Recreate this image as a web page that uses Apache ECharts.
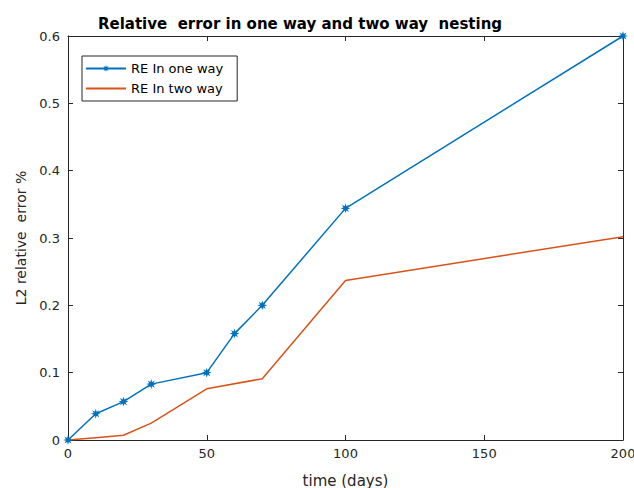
<!DOCTYPE html>
<html>
<head>
<meta charset="utf-8">
<script src="https://cdn.jsdelivr.net/npm/echarts@6/dist/echarts.min.js"></script>
<style>
  html, body { margin: 0; padding: 0; background: #fff; }
  #chart { width: 634px; height: 488px; }
</style>
</head>
<body>
<div id="chart"></div>
<script>
// values
const oneWayDays = [0, 10, 20, 30, 50, 60, 70, 100, 200]
const oneWayErr = [0, 0.039, 0.057, 0.083, 0.1, 0.158, 0.2, 0.344, 0.6]
const twoWayDays = [0, 10, 20, 30, 50, 70, 100, 200]
const twoWayErr = [0, 0.0035, 0.007, 0.025, 0.076, 0.091, 0.237, 0.302]
const xTicks = [0, 50, 100, 150, 200]
const yTicks = [0, 0.1, 0.2, 0.3, 0.4, 0.5, 0.6]

const blue = '#0072BD'
const orange = '#D95319'
const axisColor = '#262626'
const font = 'DejaVu Sans'

// 8-point star like the matlab '*' marker
const starPath = (() => {
  let d = ''
  for (let i = 0; i < 16; i++) {
    const r = i % 2 === 0 ? 10 : 4.5
    const a = Math.PI * i / 8 - Math.PI / 2
    d += (i === 0 ? 'M' : 'L') + (10 + r * Math.cos(a)).toFixed(2) + ',' + (10 + r * Math.sin(a)).toFixed(2)
  }
  return 'path://' + d + 'Z'
})()

const pairs = (xs, ys) => xs.map((x, i) => [x, ys[i]])

const tickStyle = { show: true, inside: true, length: 5, lineStyle: { color: axisColor } }
const lineStyle = { show: true, onZero: false, lineStyle: { color: axisColor, width: 1 } }

const chart = echarts.init(document.getElementById('chart'), null, { renderer: 'svg' })
chart.setOption({
  animation: false,
  title: {
    text: 'Relative  error in one way and two way  nesting',
    left: 295,
    textAlign: 'center',
    top: 11,
    textStyle: { fontFamily: font, fontSize: 15, fontWeight: 'bold', color: '#000' }
  },
  legend: {
    left: 82,
    top: 56,
    orient: 'vertical',
    itemWidth: 40,
    itemHeight: 9,
    itemGap: 7,
    padding: [6, 14, 6, 3],
    borderColor: axisColor,
    borderWidth: 1,
    borderRadius: 0,
    backgroundColor: '#fff',
    textStyle: { fontFamily: font, fontSize: 13, color: '#000' },
    data: ['RE In one way', { name: 'RE In two way', itemStyle: { opacity: 0 } }]
  },
  grid: { left: 68, right: 11, top: 36, bottom: 48, show: false, outerBoundsMode: 'none' },
  xAxis: [{
    type: 'value',
    min: 0,
    max: 200,
    interval: 50,
    name: 'time (days)',
    nameLocation: 'middle',
    nameGap: 33,
    nameTextStyle: { fontFamily: font, fontSize: 15, color: axisColor },
    axisLine: lineStyle,
    axisTick: tickStyle,
    splitLine: { show: false },
    axisLabel: {
      fontFamily: font, fontSize: 13, color: axisColor, margin: 7,
      formatter: v => xTicks.includes(v) ? String(v) : ''
    }
  }, {
    type: 'value', position: 'top', min: 0, max: 200, interval: 50,
    axisLine: lineStyle, axisTick: tickStyle, axisLabel: { show: false }, splitLine: { show: false }
  }],
  yAxis: [{
    type: 'value',
    min: 0,
    max: 0.6,
    interval: 0.1,
    name: 'L2 relative  error %',
    nameLocation: 'middle',
    nameGap: 40,
    nameTextStyle: { fontFamily: font, fontSize: 14, color: axisColor },
    axisLine: lineStyle,
    axisTick: tickStyle,
    splitLine: { show: false },
    axisLabel: {
      fontFamily: font, fontSize: 13, color: axisColor, margin: 8,
      formatter: v => String(yTicks.find(t => Math.abs(t - v) < 1e-9) ?? '')
    }
  }, {
    type: 'value', position: 'right', min: 0, max: 0.6, interval: 0.1,
    axisLine: lineStyle, axisTick: tickStyle, axisLabel: { show: false }, splitLine: { show: false }
  }],
  series: [{
    name: 'RE In one way',
    type: 'line',
    data: pairs(oneWayDays, oneWayErr),
    symbol: starPath,
    symbolSize: 10,
    showAllSymbol: true,
    itemStyle: { color: blue },
    lineStyle: { color: blue, width: 1.5 }
  }, {
    name: 'RE In two way',
    type: 'line',
    data: pairs(twoWayDays, twoWayErr),
    symbol: 'none',
    itemStyle: { color: orange },
    lineStyle: { color: orange, width: 1.5 }
  }]
})
</script>
</body>
</html>
